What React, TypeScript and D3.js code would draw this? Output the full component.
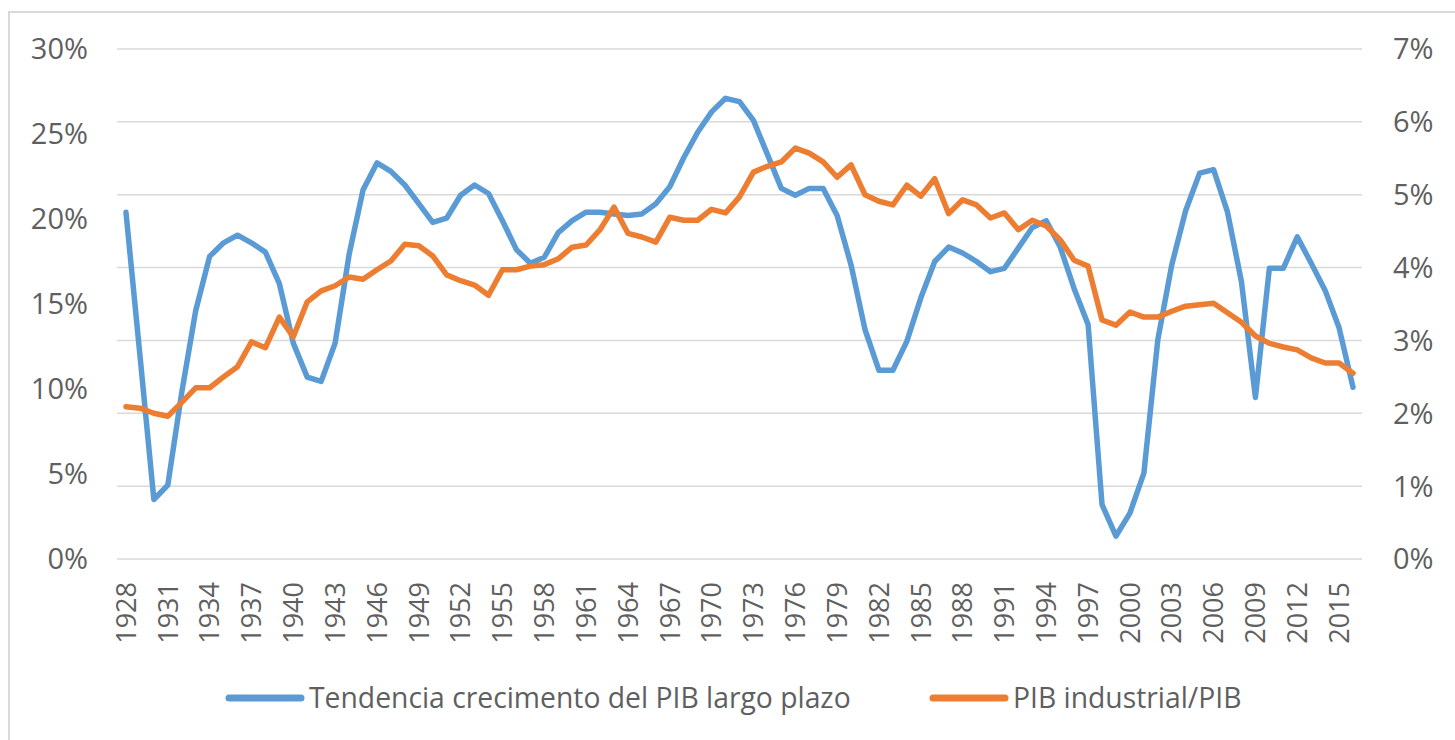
import React from "react";
import * as d3 from "d3";

const years: number[] = d3.range(1928, 2017);

const tendencia: number[] = [
  20.4, 12.0, 3.5, 4.35, 9.8, 14.6, 17.8, 18.6, 19.05, 18.6,
  18.05, 16.2, 12.7, 10.7, 10.45, 12.7, 17.9, 21.7, 23.3, 22.8,
  22.0, 20.9, 19.8, 20.05, 21.4, 22.0, 21.5, 19.9, 18.2, 17.4,
  17.75, 19.2, 19.9, 20.4, 20.4, 20.3, 20.2, 20.3, 20.9, 21.9,
  23.6, 25.1, 26.3, 27.1, 26.9, 25.8, 23.8, 21.8, 21.4, 21.8,
  21.8, 20.2, 17.3, 13.5, 11.1, 11.1, 12.8, 15.35, 17.5, 18.35,
  18.0, 17.5, 16.9, 17.1, 18.3, 19.5, 19.9, 18.35, 15.9, 13.8,
  3.2, 1.35, 2.7, 5.05, 12.9, 17.3, 20.5, 22.7, 22.9, 20.4,
  16.3, 9.5, 17.1, 17.1, 18.95, 17.4, 15.8, 13.6, 10.1,
];

const industrial: number[] = [
  2.09, 2.07, 2.0, 1.96, 2.15, 2.35, 2.35, 2.5, 2.64, 2.98,
  2.9, 3.32, 3.05, 3.53, 3.68, 3.75, 3.87, 3.84, 3.97, 4.09,
  4.32, 4.3, 4.16, 3.9, 3.82, 3.76, 3.62, 3.97, 3.97, 4.02,
  4.04, 4.12, 4.28, 4.31, 4.52, 4.83, 4.47, 4.42, 4.35, 4.69,
  4.65, 4.65, 4.8, 4.75, 4.97, 5.31, 5.39, 5.45, 5.64, 5.57,
  5.45, 5.24, 5.41, 5.0, 4.91, 4.86, 5.13, 4.98, 5.22, 4.74,
  4.93, 4.86, 4.68, 4.75, 4.52, 4.65, 4.57, 4.38, 4.1, 4.02,
  3.28, 3.21, 3.39, 3.32, 3.32, 3.4, 3.47, 3.49, 3.51, 3.38,
  3.25, 3.06, 2.96, 2.91, 2.87, 2.76, 2.69, 2.69, 2.55,
];

const leftTicks: number[] = [0, 5, 10, 15, 20, 25, 30];
const rightTicks: number[] = [0, 1, 2, 3, 4, 5, 6, 7];
const labelYears: number[] = years.filter((y) => (y - 1928) % 3 === 0);

const seriesNames: string[] = [
  "Tendencia crecimento del PIB largo plazo",
  "PIB industrial/PIB",
];
const colors: string[] = ["#5B9BD5", "#ED7D31"];

const FONT = "'Open Sans', sans-serif";
const TXT = "#5f5f5f";

export default function App() {
  const x = d3.scaleBand<number>().domain(years).range([119, 1360]);
  const cx = (yr: number) => (x(yr) as number) + x.bandwidth() / 2;
  const yL = d3.scaleLinear().domain([0, 30]).range([559, 49]);
  const yR = d3.scaleLinear().domain([0, 7]).range([559, 49]);

  const lineL = d3
    .line<number>()
    .x((_, i) => cx(years[i]))
    .y((d) => yL(d));
  const lineR = d3
    .line<number>()
    .x((_, i) => cx(years[i]))
    .y((d) => yR(d));

  return (
    <svg
      width={1455}
      height={740}
      style={{ position: "absolute", left: 0, top: 0, background: "#fff" }}
    >
      <rect x={0} y={0} width={1455} height={740} fill="#fff" />
      <rect
        x={9}
        y={12}
        width={1600}
        height={900}
        fill="none"
        stroke="#d9d9d9"
        strokeWidth={2}
      />
      {rightTicks.map((t) => (
        <line
          key={"g" + t}
          x1={117}
          x2={1362}
          y1={yR(t)}
          y2={yR(t)}
          stroke="#d9d9d9"
          strokeWidth={1.5}
        />
      ))}
      {leftTicks.map((t) => (
        <text
          key={"l" + t}
          x={88}
          y={yL(t)}
          dy="0.36em"
          textAnchor="end"
          fontFamily={FONT}
          fontSize={29}
          fill={TXT}
        >
          {t + "%"}
        </text>
      ))}
      {rightTicks.map((t) => (
        <text
          key={"r" + t}
          x={1393}
          y={yR(t)}
          dy="0.36em"
          textAnchor="start"
          fontFamily={FONT}
          fontSize={29}
          fill={TXT}
        >
          {t + "%"}
        </text>
      ))}
      {labelYears.map((yr) => (
        <text
          key={"x" + yr}
          transform={`translate(${cx(yr)},582) rotate(-90)`}
          dy="0.36em"
          textAnchor="end"
          fontFamily={FONT}
          fontSize={27}
          fill={TXT}
        >
          {yr}
        </text>
      ))}
      <path
        d={lineL(tendencia) || ""}
        fill="none"
        stroke={colors[0]}
        strokeWidth={5.5}
        strokeLinejoin="round"
        strokeLinecap="round"
      />
      <path
        d={lineR(industrial) || ""}
        fill="none"
        stroke={colors[1]}
        strokeWidth={5.5}
        strokeLinejoin="round"
        strokeLinecap="round"
      />
      <g>
        <line x1={229} x2={301} y1={698} y2={698} stroke={colors[0]} strokeWidth={7} strokeLinecap="round" />
        <text x={309} y={698} dy="0.36em" fontFamily={FONT} fontSize={28.3} fill={TXT}>
          {seriesNames[0]}
        </text>
        <line x1={933} x2={1005} y1={698} y2={698} stroke={colors[1]} strokeWidth={7} strokeLinecap="round" />
        <text x={1013} y={698} dy="0.36em" fontFamily={FONT} fontSize={28.3} fill={TXT}>
          {seriesNames[1]}
        </text>
      </g>
    </svg>
  );
}
